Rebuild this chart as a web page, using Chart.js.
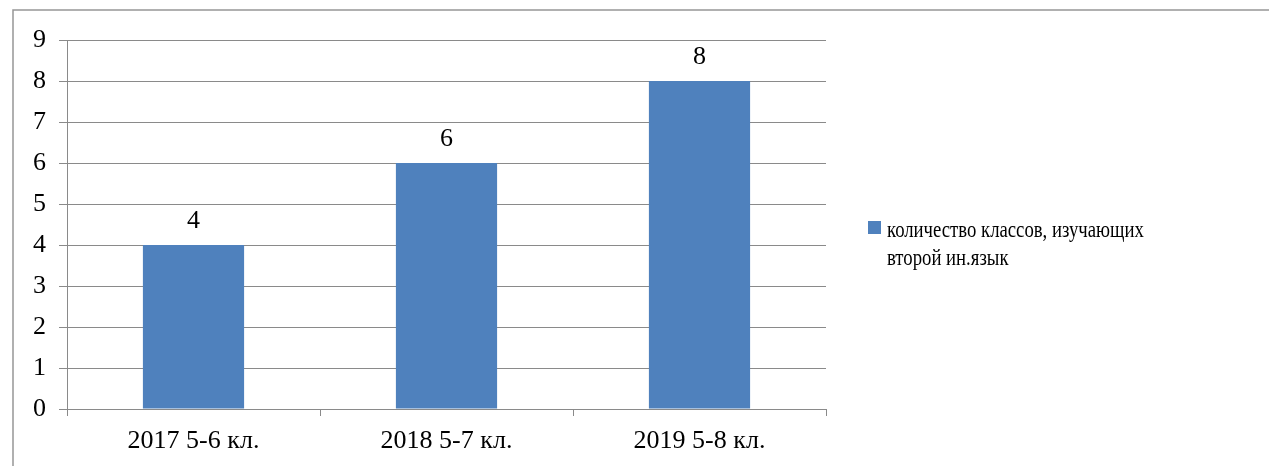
<!DOCTYPE html>
<html>
<head>
<meta charset="utf-8">
<script src="https://cdn.jsdelivr.net/npm/chart.js@4"></script>
<style>
  html, body { margin: 0; padding: 0; background: #fff; }
  #wrap { width: 1269px; height: 466px; position: relative; }
</style>
</head>
<body>
<div id="wrap"><canvas id="barChart"></canvas></div>
<script>
const categories = ['2017 5-6 кл.', '2018 5-7 кл.', '2019 5-8 кл.'];
const classCounts = [4, 6, 8];
const seriesName = 'количество классов, изучающих второй ин.язык';
const legendLines = ['количество классов, изучающих', 'второй ин.язык'];
const yTicks = [0, 1, 2, 3, 4, 5, 6, 7, 8, 9];

const FONT = "Liberation Serif";
const FONT_SIZE = 26;
const LEGEND_SIZE = 24;
const GRID = '#8a8a8a';
const BAR = '#4f81bd';

// outer frame (left and top edges only visible)
const framePlugin = {
    id: 'frame',
    beforeDraw(chart) {
        const c = chart.ctx;
        c.save();
        c.strokeStyle = '#969696';
        c.lineWidth = 1.5;
        c.beginPath();
        c.moveTo(13, chart.height + 5);
        c.lineTo(13, 10);
        c.lineTo(chart.width + 5, 10);
        c.stroke();
        c.restore();
    }
};

// value labels above bars
const valuePlugin = {
    id: 'values',
    afterDatasetsDraw(chart) {
        const c = chart.ctx;
        const meta = chart.getDatasetMeta(0);
        c.save();
        c.font = FONT_SIZE + 'px "' + FONT + '"';
        c.fillStyle = '#000';
        c.textAlign = 'center';
        c.textBaseline = 'alphabetic';
        meta.data.forEach((bar, i) => {
            c.fillText(String(classCounts[i]), bar.x, bar.y - 17);
        });
        c.restore();
    }
};

// legend on the right; the original text is a bit condensed, so squeeze it
const legendPlugin = {
    id: 'sideLegend',
    afterDraw(chart) {
        const c = chart.ctx;
        c.save();
        c.fillStyle = BAR;
        c.fillRect(868, 221, 13, 13);
        c.font = LEGEND_SIZE + 'px "' + FONT + '"';
        c.fillStyle = '#000';
        c.textBaseline = 'alphabetic';
        c.translate(887, 0);
        c.scale(0.78, 1);
        c.fillText(legendLines[0], 0, 237);
        c.fillText(legendLines[1], 0, 265);
        c.restore();
    }
};

const ctx = document.getElementById('barChart').getContext('2d');
new Chart(ctx, {
    type: 'bar',
    data: {
        labels: categories,
        datasets: [{
            label: seriesName,
            data: classCounts,
            backgroundColor: BAR,
            borderWidth: 0,
            categoryPercentage: 1,
            barPercentage: 0.4
        }]
    },
    options: {
        responsive: true,
        maintainAspectRatio: false,
        animation: false,
        layout: { padding: { top: 40, right: 443, bottom: 0, left: 0 } },
        plugins: {
            legend: { display: false },
            tooltip: { enabled: false }
        },
        scales: {
            x: {
                grid: {
                    offset: true,
                    drawOnChartArea: false,
                    drawTicks: true,
                    tickLength: 7,
                    color: GRID
                },
                border: { color: GRID, width: 1 },
                ticks: {
                    color: '#000',
                    font: { family: FONT, size: FONT_SIZE },
                    padding: 10,
                    maxRotation: 0
                },
                afterFit: s => { s.height = 57; }
            },
            y: {
                min: 0,
                max: 9,
                afterBuildTicks: s => { s.ticks = yTicks.map(v => ({ value: v })); },
                grid: {
                    color: GRID,
                    tickLength: 8,
                    drawTicks: true
                },
                border: { color: GRID, width: 1 },
                ticks: {
                    color: '#000',
                    font: { family: FONT, size: FONT_SIZE },
                    padding: 13
                },
                afterFit: s => { s.width = 67; }
            }
        }
    },
    plugins: [framePlugin, valuePlugin, legendPlugin]
});
</script>
</body>
</html>
